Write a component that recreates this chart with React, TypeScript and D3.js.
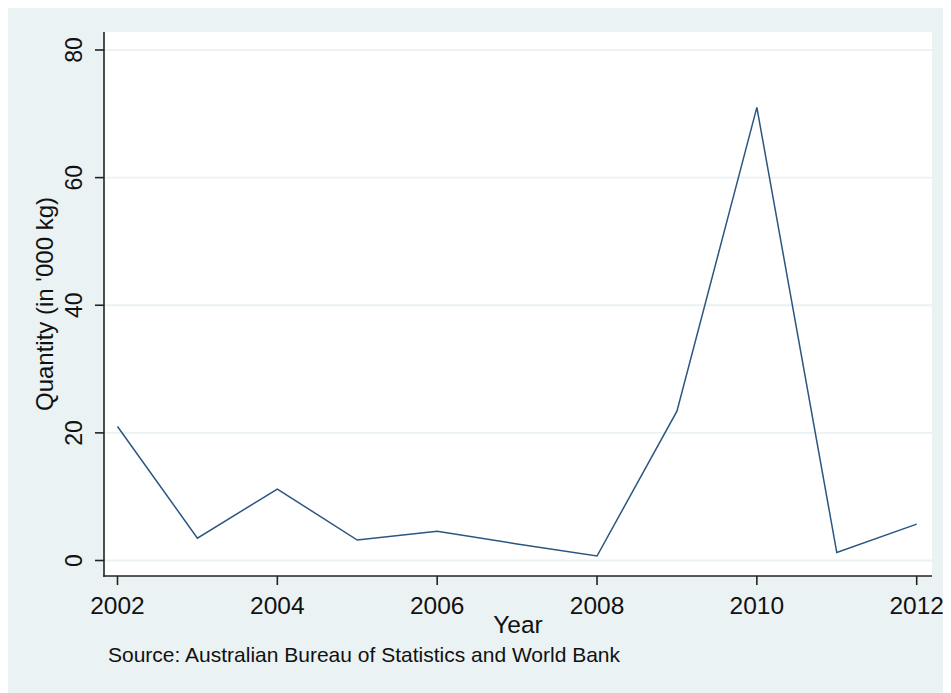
import React from "react";
import * as d3 from "d3";

const years = [2002, 2003, 2004, 2005, 2006, 2007, 2008, 2009, 2010, 2011, 2012];
const quantity = [21.0, 3.5, 11.2, 3.2, 4.6, 2.6, 0.7, 23.4, 71.0, 1.25, 5.7];
const xTicks = [2002, 2004, 2006, 2008, 2010, 2012];
const yTicks = [0, 20, 40, 60, 80];
const xTitle = "Year";
const yTitle = "Quantity (in '000 kg)";
const note = "Source: Australian Bureau of Statistics and World Bank";

const W = 943;
const H = 685;
const plot = { left: 96, right: 924, top: 24, bottom: 568 };
const FONT = "'Liberation Sans', Arial, Helvetica, sans-serif";
const BG = "#eaf2f3";

export default function App() {
  const x = d3.scaleLinear().domain([2002, 2012]).range([109.5, 908.7]);
  const y = d3.scaleLinear().domain([0, 80]).range([552.5, 42]);
  const line = d3
    .line<number>()
    .x((_, i) => x(years[i]))
    .y((d) => y(d));

  return (
    <svg width={W} height={H} style={{ display: "block" }} fontFamily={FONT}>
      <rect x={0} y={0} width={W} height={H} fill={BG} />
      <rect
        x={plot.left}
        y={plot.top}
        width={plot.right - plot.left}
        height={plot.bottom - plot.top}
        fill="#ffffff"
      />
      {yTicks.map((t) => (
        <line
          key={"g" + t}
          x1={plot.left}
          x2={plot.right}
          y1={y(t)}
          y2={y(t)}
          stroke={BG}
          strokeWidth={1.8}
        />
      ))}
      <path d={line(quantity) || ""} fill="none" stroke="#2a5681" strokeWidth={1.5} strokeLinejoin="miter" />
      {/* y axis */}
      <line x1={plot.left} x2={plot.left} y1={plot.top} y2={plot.bottom + 0.8} stroke="#222" strokeWidth={1.6} />
      {yTicks.map((t) => (
        <g key={"y" + t}>
          <line x1={plot.left - 9} x2={plot.left} y1={y(t)} y2={y(t)} stroke="#222" strokeWidth={1.6} />
          <text
            transform={`translate(74,${y(t)}) rotate(-90)`}
            textAnchor="middle"
            fontSize={23}
            fill="#111"
          >
            {t}
          </text>
        </g>
      ))}
      {/* x axis */}
      <line x1={plot.left - 0.8} x2={plot.right} y1={plot.bottom} y2={plot.bottom} stroke="#222" strokeWidth={1.6} />
      {xTicks.map((t) => (
        <g key={"x" + t}>
          <line x1={x(t)} x2={x(t)} y1={plot.bottom} y2={plot.bottom + 9} stroke="#222" strokeWidth={1.6} />
          <text x={x(t)} y={606} textAnchor="middle" fontSize={24.5} fill="#111">
            {t}
          </text>
        </g>
      ))}
      <text x={(plot.left + plot.right) / 2} y={625} textAnchor="middle" fontSize={24.5} fill="#111">
        {xTitle}
      </text>
      <text transform={`translate(45,${(plot.top + plot.bottom) / 2}) rotate(-90)`} textAnchor="middle" fontSize={24} fill="#111">
        {yTitle}
      </text>
      <text x={100} y={653.5} fontSize={21} fill="#111">
        {note}
      </text>
    </svg>
  );
}
